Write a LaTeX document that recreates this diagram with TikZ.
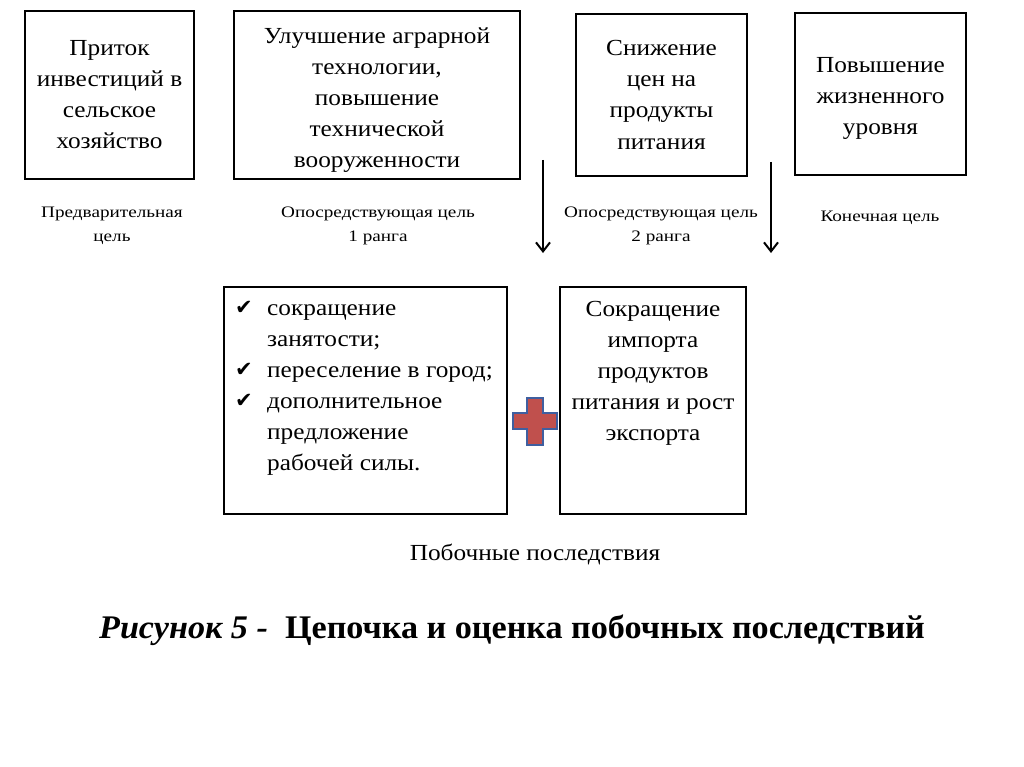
\documentclass[tikz,border=0pt]{standalone}
\usepackage{fontspec}
\setmainfont{Liberation Serif}
\newfontfamily\boxfont[FakeStretch=1.1]{Liberation Serif}
\newfontfamily\labelfont[FakeStretch=1.2]{Liberation Serif}
\newfontfamily\sidefont[FakeStretch=1.1]{Liberation Serif}
\newfontfamily\capfont[FakeStretch=1.035]{Liberation Serif}
\newfontfamily\symfont{DejaVu Sans}
\usetikzlibrary{arrows.meta}
\definecolor{crossred}{HTML}{C0504D}
\definecolor{crossblue}{HTML}{3F5FA0}
\newcommand{\chk}{\makebox[31pt][l]{\hspace{-1pt}\raisebox{1pt}{\symfont\fontsize{21}{31}\selectfont ✔}}}
\newcommand{\nochk}{\makebox[31pt][l]{}}
\tikzset{
  goalbox/.style={draw=black, line width=2.6pt, inner sep=0pt, align=center,
    font=\boxfont\fontsize{23}{31}\selectfont},
  goallabel/.style={align=center, inner sep=0pt, font=\labelfont\fontsize{16}{24}\selectfont},
  downarrow/.style={line width=2pt, -{Straight Barb[length=9pt,width=14pt,line width=2pt]}},
}
\begin{document}
\begin{tikzpicture}[x=1pt,y=-1pt]
\useasboundingbox[fill=white] (0,0) rectangle (1024,767);
% top boxes
\node[goalbox, minimum width=169pt, minimum height=168pt] (b1) at (109.5,95) {Приток\\инвестиций в\\сельское\\хозяйство};
\node[goalbox, minimum width=286pt, minimum height=168pt] (b2) at (377,95) {\rule{0pt}{26pt}Улучшение аграрной\\технологии,\\повышение\\технической\\вооруженности};
\node[goalbox, minimum width=171pt, minimum height=162pt] (b3) at (661.5,95) {Снижение\\цен на\\продукты\\питания};
\node[goalbox, minimum width=171pt, minimum height=162pt] (b4) at (880.5,94) {\rule{0pt}{23pt}Повышение\\жизненного\\уровня};
% labels
\node[goallabel] (l1) at (112,226) {Предварительная\\цель};
\node[goallabel] (l2) at (378,226) {Опосредствующая цель\\1 ранга};
\node[goallabel] (l3) at (661,226) {Опосредствующая цель\\2 ранга};
\node[goallabel] (l4) at (880,218) {Конечная цель};
% arrows
\coordinate (a1s) at (543,160);
\coordinate (a1e) at (543,253);
\coordinate (a2s) at (771,162);
\coordinate (a2e) at (771,253);
\draw[downarrow] (a1s) -- (a1e);
\draw[downarrow] (a2s) -- (a2e);
% bottom boxes
\node[goalbox, minimum width=283pt, minimum height=227pt] (b5) at (365.5,400.5) {};
\node[anchor=north west, inner sep=0pt, font=\boxfont\fontsize{23}{31}\selectfont] (t5) at (236,294)
{\begin{tabular}{@{}l@{}l@{}}
\chk & сокращение\\
\nochk & занятости;\\
\chk & переселение в город;\\
\chk & дополнительное\\
\nochk & предложение\\
\nochk & рабочей силы.
\end{tabular}};
\node[goalbox, minimum width=186pt, minimum height=227pt] (b6) at (653,400.5) {};
\node[align=center, inner sep=0pt, font=\boxfont\fontsize{23}{31}\selectfont] (t6) at (653,373)
{Сокращение\\импорта\\продуктов\\питания и рост\\экспорта};
% plus sign
\draw[fill=crossred, draw=crossblue, line width=2.5pt]
  (527,398) -- (543,398) -- (543,413) -- (557,413) -- (557,429) -- (543,429) -- (543,445)
  -- (527,445) -- (527,429) -- (513,429) -- (513,413) -- (527,413) -- cycle;
% bottom texts
\node[inner sep=0pt, anchor=base, font=\sidefont\fontsize{23}{26}\selectfont] (side) at (535,560) {Побочные последствия};
\node[inner sep=0pt, anchor=base, font=\capfont\fontsize{33}{36}\selectfont\bfseries] (cap) at (512,638)
{\textit{Рисунок 5 -}\ \ Цепочка и оценка побочных последствий};
\end{tikzpicture}
\end{document}
